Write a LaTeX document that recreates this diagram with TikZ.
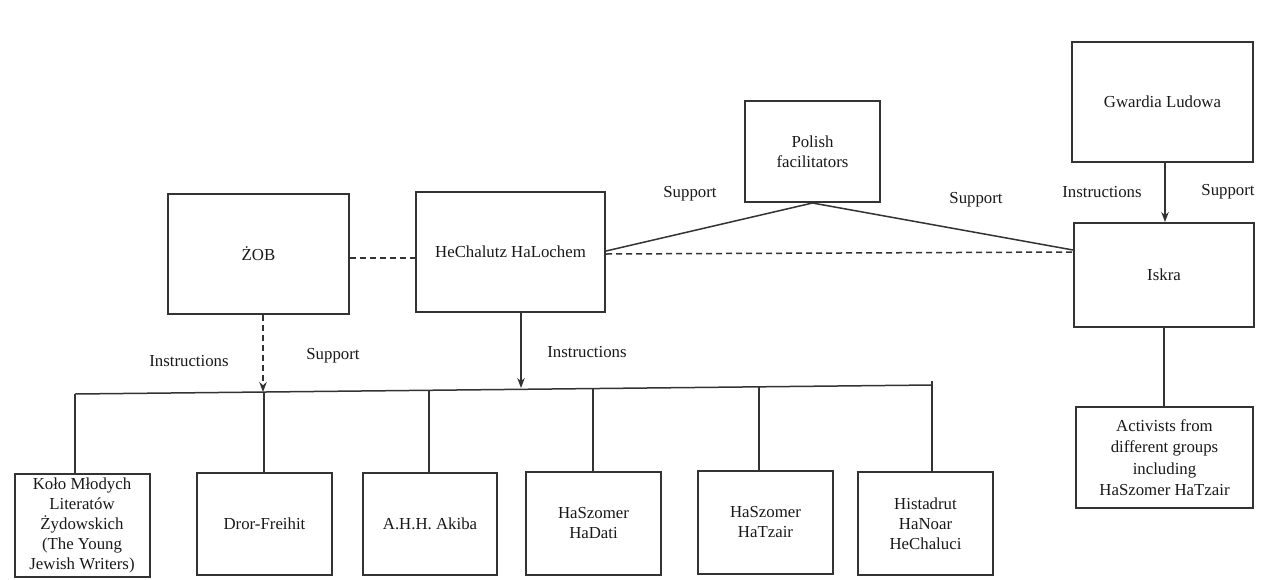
\documentclass[tikz,border=0pt]{standalone}
\usepackage{fontspec}
\setmainfont{Liberation Serif}
\usetikzlibrary{arrows.meta,calc}
\begin{document}
\begin{tikzpicture}[x=1pt,y=-1pt,
  every node/.style={font=\fontsize{16.8}{20}\selectfont, text=black!90, inner sep=0pt},
  box/.style={draw=black!80, line width=2pt, align=center, minimum width=#1},
  box/.default=135pt,
  lbl/.style={},
  conn/.style={draw=black!80, line width=1.5pt},
  dconn/.style={conn, dashed, dash pattern=on 6pt off 4pt},
  tip/.style={-{Stealth[length=10pt,width=7.5pt]}}
]
\useasboundingbox[fill=white] (0,0) rectangle (1263,579);

% top boxes
\node[box=181pt, minimum height=120pt] (zob) at (258.5,254) {ŻOB};
\node[box=189pt, minimum height=120pt] (hech) at (510.5,252) {HeChalutz HaLochem};
\node[box=135pt, minimum height=101pt] (pol) at (812.5,151.5) {Polish\\facilitators};
\node[box=181pt, minimum height=120pt] (gw) at (1162.5,102) {Gwardia Ludowa};
\node[box=180pt, minimum height=104pt] (iskra) at (1164,275) {Iskra};
\node[box=177pt, minimum height=101pt, font=\fontsize{16.8}{21.5}\selectfont] (act) at (1164.5,457.5) {Activists from\\different groups\\including\\HaSzomer HaTzair};

% bottom boxes
\node[box, minimum height=103pt] (kolo) at (82,525) {Koło Młodych\\Literatów\\Żydowskich\\(The Young\\Jewish Writers)};
\node[box, minimum height=102pt] (dror) at (264.5,524) {Dror-Freihit};
\node[box=134pt, minimum height=102pt] (akiba) at (430,524) {A.H.H. Akiba};
\node[box, minimum height=103pt] (dati) at (593.5,523.5) {HaSzomer\\HaDati};
\node[box, minimum height=103pt] (tzair) at (765.5,522.5) {HaSzomer\\HaTzair};
\node[box, minimum height=103pt] (hist) at (925.5,523.5) {Histadrut\\HaNoar\\HeChaluci};

% labels
\node[lbl] (s1) at (690,194) {Support};
\node[lbl] (s2) at (976,200) {Support};
\node[lbl] (i3) at (1102,192) {Instructions};
\node[lbl] (s3) at (1228,192) {Support};
\node[lbl] (i1) at (189,361) {Instructions};
\node[lbl] (s4) at (333,356) {Support};
\node[lbl] (i2) at (587,352) {Instructions};

% bus coordinates
\coordinate (busL) at (75,394);
\coordinate (busR) at (932,385);
\coordinate (dK) at (75,394);
\coordinate (dD) at (264,392);
\coordinate (dA) at (429,390.3);
\coordinate (dH) at (593,388.6);
\coordinate (dT) at (759,386.8);
\coordinate (dI) at (932,381);
\coordinate (zobEnd) at (263,392);
\coordinate (hechEnd) at (521,388);

% connectors
\draw[dconn] ([yshift=-4pt]zob.east) -- ([yshift=-6pt]hech.west);
\draw[conn] ([yshift=1pt]hech.east) -- (pol.south);
\draw[conn] (pol.south) -- ([yshift=25pt]iskra.west);
\draw[dconn] ([yshift=-2pt]hech.east) -- ([yshift=23pt]iskra.west);
\draw[conn, tip] ([xshift=2.5pt]gw.south) -- ([xshift=1pt]iskra.north);
\draw[conn] (iskra.south) -- (act.north -| iskra.south);
\draw[dconn, tip] ([xshift=4.5pt]zob.south) -- (zobEnd);
\draw[conn, tip] ([xshift=10.5pt]hech.south) -- (hechEnd);

\draw[conn] (busL) -- (busR);
\draw[conn] (dK) -- (dK |- kolo.north);
\draw[conn] (dD) -- (dD |- dror.north);
\draw[conn] (dA) -- (dA |- akiba.north);
\draw[conn] (dH) -- (dH |- dati.north);
\draw[conn] (dT) -- (dT |- tzair.north);
\draw[conn] (dI) -- (dI |- hist.north);
\end{tikzpicture}
\end{document}
